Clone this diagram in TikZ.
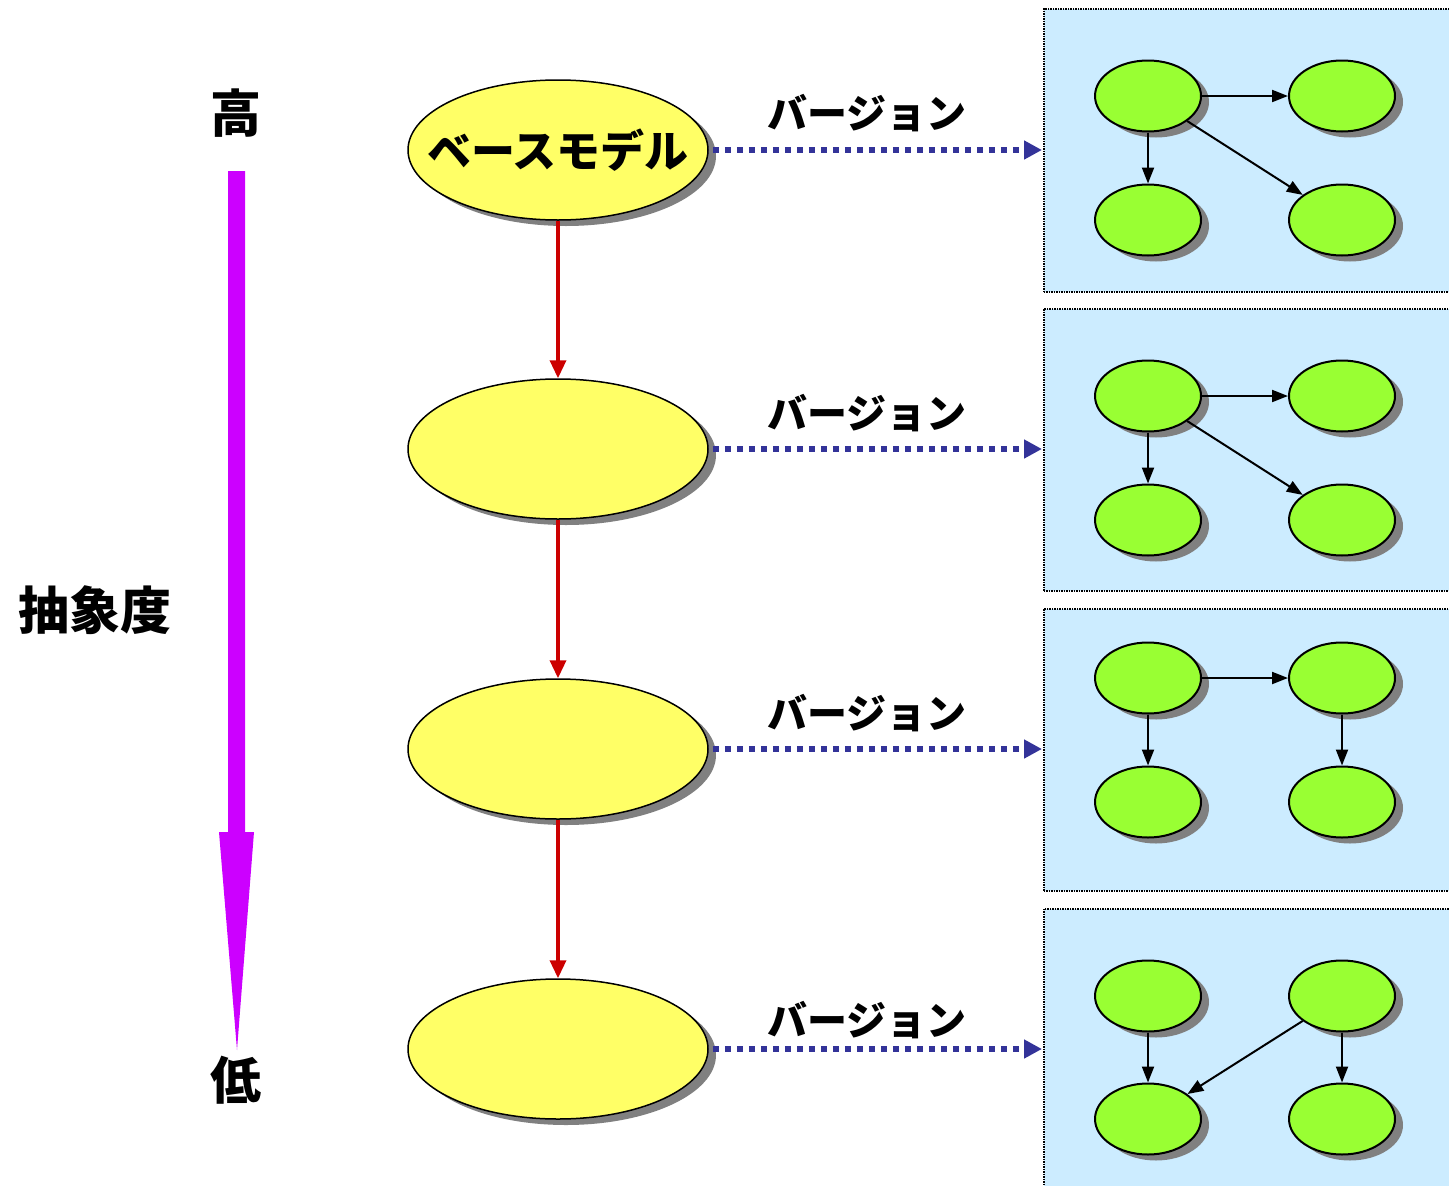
\documentclass[tikz,border=0pt]{standalone}
\usepackage{fontspec}
\newfontfamily\cjk{Noto Sans CJK JP}
\usetikzlibrary{shapes.geometric,arrows.meta,shadows}
\definecolor{bigyellow}{HTML}{FFFF66}
\definecolor{nodegreen}{HTML}{99FF33}
\definecolor{boxblue}{HTML}{CCECFF}
\definecolor{verblue}{HTML}{333399}
\definecolor{redarr}{HTML}{CC0000}
\definecolor{magenta}{HTML}{CC00FF}
\definecolor{shadowgray}{HTML}{808080}
\tikzset{
  bigell/.style={ellipse, draw=black, line width=1.5pt, fill=bigyellow, minimum width=300pt, minimum height=140pt, inner sep=0pt,
    drop shadow={shadow xshift=8pt, shadow yshift=-6pt, fill=shadowgray, opacity=1}},
  smell/.style={ellipse, draw=black, line width=2pt, fill=nodegreen, minimum width=106pt, minimum height=71pt, inner sep=0pt,
    drop shadow={shadow xshift=8pt, shadow yshift=-6pt, fill=shadowgray, opacity=1}},
  verbox/.style={draw=black, densely dotted, line width=1.5pt, fill=boxblue, anchor=north west, minimum width=410pt, inner sep=0pt},
  redarrow/.style={draw=redarr, line width=3.5pt, -{Triangle[length=18pt,width=16pt]}},
  bluearrow/.style={draw=verblue, line width=6pt, dash pattern=on 6pt off 6pt, -{Triangle[length=18pt,width=18pt]}},
  garrow/.style={draw=black, line width=2pt, -{Triangle[length=16pt,width=12pt]}},
  vlabel/.style={font=\cjk\bfseries\fontsize{40pt}{44pt}\selectfont, inner sep=0pt},
  biglabel/.style={font=\cjk\bfseries\fontsize{51pt}{54pt}\selectfont, inner sep=0pt},
  modeltext/.style={font=\cjk\bfseries\fontsize{44pt}{48pt}\selectfont, inner sep=0pt},
}
\begin{document}
\begin{tikzpicture}[x=1pt,y=-1pt]
\useasboundingbox (0,0) rectangle (1449,1186);
% boxes
\node[verbox, minimum height=283pt] (b1) at (1043,8) {};
\node[verbox, minimum height=282pt] (b2) at (1043,308) {};
\node[verbox, minimum height=282pt] (b3) at (1043,608) {};
\node[verbox, minimum height=290pt] (b4) at (1043,908) {};
% big ellipses
\node[bigell, label={[modeltext]center:ベースモデル}] (m1) at (558,150) {};
\node[bigell] (m2) at (558,449) {};
\node[bigell] (m3) at (558,749) {};
\node[bigell] (m4) at (558,1049) {};
\draw[redarrow] (m1.south) -- (m2.north);
\draw[redarrow] (m2.south) -- (m3.north);
\draw[redarrow] (m3.south) -- (m4.north);
% version labels and dotted arrows
\foreach \i/\y/\ly in {1/150/113,2/449/413,3/749/713,4/1049/1020}{
  \node[vlabel] (v\i) at (867,\ly) {バージョン};
  \coordinate (t\i) at (1042,\y);
  \draw[bluearrow] ([xshift=4pt]m\i.east) -- (t\i);
}
% box 1
\node[smell] (a1) at (1148,96) {};
\node[smell] (b1n) at (1342,96) {};
\node[smell] (c1) at (1148,220) {};
\node[smell] (d1) at (1342,220) {};
\draw[garrow] (a1) -- (b1n);
\draw[garrow] (a1) -- (c1);
\draw[garrow] (a1) -- (d1);
% box 2
\node[smell] (a2) at (1148,396) {};
\node[smell] (b2n) at (1342,396) {};
\node[smell] (c2) at (1148,520) {};
\node[smell] (d2) at (1342,520) {};
\draw[garrow] (a2) -- (b2n);
\draw[garrow] (a2) -- (c2);
\draw[garrow] (a2) -- (d2);
% box 3
\node[smell] (a3) at (1148,678) {};
\node[smell] (b3n) at (1342,678) {};
\node[smell] (c3) at (1148,802) {};
\node[smell] (d3) at (1342,802) {};
\draw[garrow] (a3) -- (b3n);
\draw[garrow] (a3) -- (c3);
\draw[garrow] (b3n) -- (d3);
% box 4
\node[smell] (a4) at (1148,996) {};
\node[smell] (b4n) at (1342,996) {};
\node[smell] (c4) at (1148,1119) {};
\node[smell] (d4) at (1342,1119) {};
\draw[garrow] (a4) -- (c4);
\draw[garrow] (b4n) -- (c4);
\draw[garrow] (b4n) -- (d4);
% abstraction axis
\node[biglabel] (hi) at (236,113) {高};
\node[biglabel] (lo) at (236,1080) {低};
\node[biglabel] (abs) at (95,610) {抽象度};
\fill[magenta] (228,171) -- (245,171) -- (245,832) -- (254,832) -- (237,1050) -- (219,832) -- (228,832) -- cycle;
\end{tikzpicture}
\end{document}
